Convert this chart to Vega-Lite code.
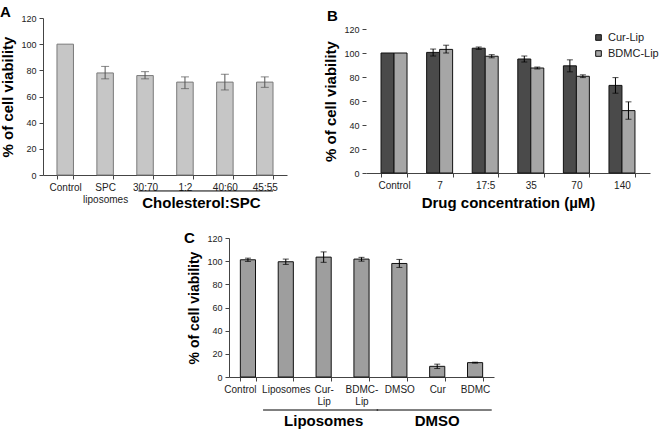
{
  "$schema": "https://vega.github.io/schema/vega-lite/v6.json",
  "padding": {"left": 0, "top": 5, "right": 0, "bottom": 0},
  "background": "white",
  "config": {
    "view": {"stroke": null},
    "font": "Liberation Sans",
    "axis": {
      "labelFont": "Liberation Sans", "labelFontSize": 10, "labelColor": "#222",
      "titleFont": "Liberation Sans", "titleFontWeight": "bold", "titleColor": "#000", "titleFontSize": 15,
      "domainColor": "#444", "tickColor": "#444", "tickSize": 4, "grid": false, "labelPadding": 3
    },
    "axisY": {"labelFontSize": 9, "labelPadding": 3, "titlePadding": 5},
    "title": {"font": "Liberation Sans", "fontWeight": "bold", "fontSize": 15, "color": "#000", "anchor": "start", "frame": "group"}
  },
  "datasets": {
    "a": [
      {"g": "Control", "v": 100},
      {"g": "SPC liposomes", "v": 78, "lo": 73.5, "hi": 83},
      {"g": "30:70", "v": 76, "lo": 73.5, "hi": 79},
      {"g": "1:2", "v": 71, "lo": 66, "hi": 75},
      {"g": "40:60", "v": 71, "lo": 65, "hi": 77},
      {"g": "45:55", "v": 71, "lo": 67, "hi": 75}
    ],
    "b": [
      {"c": "Control", "s": "Cur-Lip", "v": 100},
      {"c": "Control", "s": "BDMC-Lip", "v": 100},
      {"c": "7", "s": "Cur-Lip", "v": 100.5, "lo": 97.5, "hi": 103.3},
      {"c": "7", "s": "BDMC-Lip", "v": 103, "lo": 100, "hi": 106.5},
      {"c": "17:5", "s": "Cur-Lip", "v": 104, "lo": 103, "hi": 105},
      {"c": "17:5", "s": "BDMC-Lip", "v": 97.3, "lo": 96, "hi": 98.6},
      {"c": "35", "s": "Cur-Lip", "v": 95, "lo": 92.5, "hi": 97.5},
      {"c": "35", "s": "BDMC-Lip", "v": 87.5, "lo": 86.7, "hi": 88.3},
      {"c": "70", "s": "Cur-Lip", "v": 89.3, "lo": 84.3, "hi": 94.3},
      {"c": "70", "s": "BDMC-Lip", "v": 80.6, "lo": 79.5, "hi": 81.8},
      {"c": "140", "s": "Cur-Lip", "v": 73, "lo": 66.5, "hi": 79.5},
      {"c": "140", "s": "BDMC-Lip", "v": 52, "lo": 44.8, "hi": 59.3}
    ],
    "c": [
      {"g": "Control", "v": 101.2, "lo": 99.8, "hi": 102.6},
      {"g": "Liposomes", "v": 99.5, "lo": 97.2, "hi": 101.8},
      {"g": "Cur-Lip", "v": 103.5, "lo": 99, "hi": 108},
      {"g": "BDMC-Lip", "v": 101.8, "lo": 100, "hi": 103.3},
      {"g": "DMSO", "v": 98, "lo": 94.6, "hi": 101.5},
      {"g": "Cur", "v": 9.2, "lo": 7.3, "hi": 11.1},
      {"g": "BDMC", "v": 12.4, "lo": 12, "hi": 12.8}
    ],
    "annA": [{"from": "30:70", "to": "45:55", "mid": "1:2", "label": "Cholesterol:SPC"}],
    "annC": [
      {"from": "Liposomes", "to": "BDMC-Lip", "mid": "Cur-Lip", "label": "Liposomes"},
      {"from": "DMSO", "to": "BDMC", "mid": "Cur", "label": "DMSO"}
    ]
  },
  "spacing": 20,
  "vconcat": [
    {
      "spacing": 36,
      "hconcat": [
        {
          "width": 244, "height": 157,
          "title": {"text": "A", "dx": -43, "offset": -6},
          "encoding": {
            "x": {"type": "nominal",
              "scale": {"domain": ["Control", "SPC liposomes", "30:70", "1:2", "40:60", "45:55"], "paddingInner": 0.587, "paddingOuter": 0.35},
              "axis": {"title": null, "labelAngle": 0, "tickBand": "extent",
                "labelExpr": "datum.label == 'SPC liposomes' ? ['SPC', 'liposomes'] : datum.label"}},
            "y": {"type": "quantitative", "scale": {"domain": [0, 120]},
              "axis": {"title": "% of cell viability", "values": [0, 20, 40, 60, 80, 100, 120]}}
          },
          "layer": [
            {
              "data": {"name": "a"},
              "mark": {"type": "bar", "fill": "#c6c6c6", "stroke": "#7a7a7a", "strokeWidth": 1},
              "encoding": {"x": {"field": "g"}, "y": {"field": "v"}}
            },
            {
              "data": {"name": "a"},
              "transform": [{"filter": "isValid(datum.lo)"}],
              "mark": {"type": "rule", "color": "#555", "strokeWidth": 1},
              "encoding": {"x": {"field": "g"}, "y": {"field": "lo"}, "y2": {"field": "hi"}}
            },
            {
              "data": {"name": "a"},
              "transform": [{"filter": "isValid(datum.lo)"}],
              "mark": {"type": "tick", "color": "#555", "size": 8, "thickness": 1},
              "encoding": {"x": {"field": "g"}, "y": {"field": "lo"}}
            },
            {
              "data": {"name": "a"},
              "transform": [{"filter": "isValid(datum.hi)"}],
              "mark": {"type": "tick", "color": "#555", "size": 8, "thickness": 1},
              "encoding": {"x": {"field": "g"}, "y": {"field": "hi"}}
            },
            {
              "data": {"name": "annA"},
              "mark": {"type": "rule", "color": "#000", "strokeWidth": 1},
              "encoding": {
                "x": {"field": "from", "bandPosition": 0.1},
                "x2": {"field": "to", "bandPosition": 1},
                "y": {"datum": -12.2}
              }
            },
            {
              "data": {"name": "annA"},
              "mark": {"type": "text", "fontSize": 15, "fontWeight": "bold", "font": "Liberation Sans", "baseline": "middle", "color": "#000"},
              "encoding": {
                "x": {"field": "mid", "bandPosition": 1.5},
                "y": {"datum": -21.4},
                "text": {"field": "label"}
              }
            }
          ]
        },
        {
          "width": 284, "height": 155,
          "title": {"text": "B", "dx": -39, "offset": -6},
          "encoding": {
            "x": {"type": "nominal",
              "scale": {"domain": ["Control", "7", "17:5", "35", "70", "140"], "paddingInner": 0.43, "paddingOuter": 0.33},
              "axis": {"title": "Drug concentration (\u00b5M)", "labelAngle": 0, "tickBand": "extent", "titlePadding": 5}},
            "y": {"type": "quantitative", "scale": {"domain": [0, 129.17], "nice": false},
              "axis": {"title": "% of cell viability", "values": [0, 20, 40, 60, 80, 100, 120], "domain": false, "titleY": 83}}
          },
          "layer": [
            {
              "data": {"name": "b"},
              "mark": {"type": "bar", "stroke": "#111", "strokeWidth": 1},
              "encoding": {
                "x": {"field": "c"},
                "xOffset": {"field": "s", "type": "nominal", "sort": ["Cur-Lip", "BDMC-Lip"], "scale": {"paddingInner": 0, "paddingOuter": 0}},
                "y": {"field": "v"},
                "fill": {"field": "s", "type": "nominal", "sort": ["Cur-Lip", "BDMC-Lip"],
                  "scale": {"domain": ["Cur-Lip", "BDMC-Lip"], "range": ["#4a4a4a", "#a6a6a6"]},
                  "legend": {"title": null, "orient": "none", "legendX": 550, "legendY": 14, "symbolType": "square", "symbolSize": 32,
                    "symbolStrokeColor": "#111", "symbolStrokeWidth": 1, "labelFontSize": 11, "labelFont": "Liberation Sans", "labelColor": "#222", "rowPadding": 4, "labelOffset": 4}}
              }
            },
            {
              "data": {"name": "b"},
              "transform": [{"filter": "isValid(datum.lo)"}],
              "mark": {"type": "rule", "color": "#000", "strokeWidth": 1},
              "encoding": {"x": {"field": "c"}, "xOffset": {"field": "s", "type": "nominal", "sort": ["Cur-Lip", "BDMC-Lip"]}, "y": {"field": "lo"}, "y2": {"field": "hi"}}
            },
            {
              "data": {"name": "b"},
              "transform": [{"filter": "isValid(datum.lo)"}],
              "mark": {"type": "tick", "color": "#000", "size": 6, "thickness": 1},
              "encoding": {"x": {"field": "c"}, "xOffset": {"field": "s", "type": "nominal", "sort": ["Cur-Lip", "BDMC-Lip"]}, "y": {"field": "lo"}}
            },
            {
              "data": {"name": "b"},
              "transform": [{"filter": "isValid(datum.hi)"}],
              "mark": {"type": "tick", "color": "#000", "size": 6, "thickness": 1},
              "encoding": {"x": {"field": "c"}, "xOffset": {"field": "s", "type": "nominal", "sort": ["Cur-Lip", "BDMC-Lip"]}, "y": {"field": "hi"}}
            },
            {
              "mark": {"type": "rule", "color": "#444", "strokeWidth": 1},
              "encoding": {
                "x": {"datum": "Control", "bandPosition": -0.58},
                "y": {"datum": 0},
                "y2": {"datum": 120}
              }
            }
          ]
        }
      ]
    },
    {
      "spacing": 0,
      "hconcat": [
        {"width": 141, "height": 10, "data": {"values": []}, "mark": "point"},
        {
          "width": 265, "height": 139,
          "title": {"text": "C", "dx": -45, "offset": -12},
          "encoding": {
            "x": {"type": "nominal",
              "scale": {"domain": ["Control", "Liposomes", "Cur-Lip", "BDMC-Lip", "DMSO", "Cur", "BDMC"], "paddingInner": 0.6, "paddingOuter": 0.3},
              "axis": {"title": null, "labelAngle": 0, "tickBand": "extent", "labelOverlap": false,
                "labelOffset": {"condition": {"test": "datum.value == 'Control'", "value": -8}, "value": 0},
                "labelExpr": "datum.label == 'Cur-Lip' ? ['Cur-', 'Lip'] : datum.label == 'BDMC-Lip' ? ['BDMC-', 'Lip'] : datum.label"}},
            "y": {"type": "quantitative", "scale": {"domain": [0, 120]},
              "axis": {"title": "% of cell viability", "titleFontSize": 14, "values": [0, 20, 40, 60, 80, 100, 120]}}
          },
          "layer": [
            {
              "data": {"name": "c"},
              "mark": {"type": "bar", "fill": "#9e9e9e", "stroke": "#111", "strokeWidth": 1},
              "encoding": {"x": {"field": "g"}, "y": {"field": "v"}}
            },
            {
              "data": {"name": "c"},
              "mark": {"type": "rule", "color": "#000", "strokeWidth": 1},
              "encoding": {"x": {"field": "g"}, "y": {"field": "lo"}, "y2": {"field": "hi"}}
            },
            {
              "data": {"name": "c"},
              "mark": {"type": "tick", "color": "#000", "size": 6, "thickness": 1},
              "encoding": {"x": {"field": "g"}, "y": {"field": "lo"}}
            },
            {
              "data": {"name": "c"},
              "mark": {"type": "tick", "color": "#000", "size": 6, "thickness": 1},
              "encoding": {"x": {"field": "g"}, "y": {"field": "hi"}}
            },
            {
              "data": {"name": "annC"},
              "mark": {"type": "rule", "color": "#000", "strokeWidth": 1},
              "encoding": {
                "x": {"field": "from", "bandPosition": -1},
                "x2": {"field": "to", "bandPosition": 1.6},
                "y": {"datum": -28.5}
              }
            },
            {
              "data": {"name": "annC"},
              "mark": {"type": "text", "fontSize": 15, "fontWeight": "bold", "font": "Liberation Sans", "baseline": "middle", "color": "#000"},
              "encoding": {
                "x": {"field": "mid", "bandPosition": 0.5},
                "y": {"datum": -38},
                "text": {"field": "label"}
              }
            }
          ]
        }
      ]
    }
  ]
}
